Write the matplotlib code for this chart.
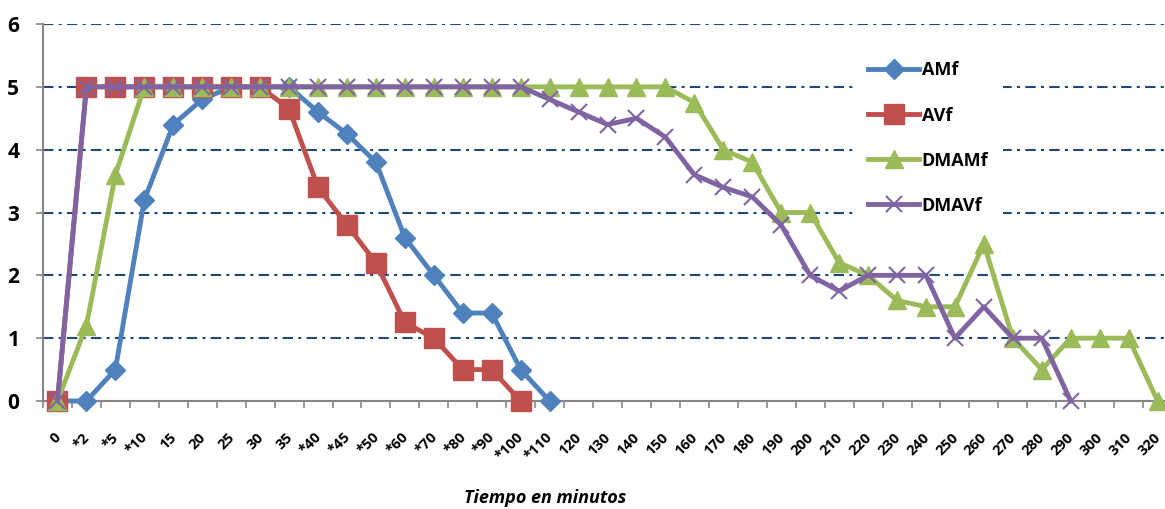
import matplotlib
matplotlib.use("Agg")
import matplotlib.pyplot as plt
import matplotlib.transforms as mtransforms
import numpy as np

plt.rcParams['font.family'] = ['Open Sans', 'DejaVu Sans']

# categories (minutes)
tiempos = ['0', '*2', '*5', '*10', '15', '20', '25', '30', '35', '*40', '*45', '*50',
           '*60', '*70', '*80', '*90', '*100', '*110', '120', '130', '140', '150',
           '160', '170', '180', '190', '200', '210', '220', '230', '240', '250',
           '260', '270', '280', '290', '300', '310', '320']

amf = [0, 0, 0.5, 3.2, 4.4, 4.8, 5, 5, 5, 4.6, 4.25, 3.8, 2.6, 2.0, 1.4, 1.4, 0.5, 0]
avf = [0, 5, 5, 5, 5, 5, 5, 5, 4.65, 3.4, 2.8, 2.2, 1.25, 1.0, 0.5, 0.5, 0]
dmamf = [0, 1.2, 3.6, 5, 5, 5, 5, 5, 5, 5, 5, 5, 5, 5, 5, 5, 5, 5, 5, 5, 5, 5,
         4.75, 4.0, 3.8, 3.0, 3.0, 2.2, 2.0, 1.6, 1.5, 1.5, 2.5, 1.0, 0.5, 1.0, 1.0, 1.0, 0]
dmavf = [0, 5, 5, 5, 5, 5, 5, 5, 5, 5, 5, 5, 5, 5, 5, 5, 5, 4.8, 4.6, 4.4, 4.5, 4.2,
         3.6, 3.4, 3.25, 2.8, 2.0, 1.75, 2.0, 2.0, 2.0, 1.0, 1.5, 1.0, 1.0, 0]

series = [
    ('AMf', amf, '#4F81BD', 'D', 10),
    ('AVf', avf, '#C0504D', 's', 14),
    ('DMAMf', dmamf, '#9BBB59', '^', 13),
    ('DMAVf', dmavf, '#8064A2', 'x', 12),
]

W, H = 1165, 509
fig = plt.figure(figsize=(W / 100, H / 100), dpi=100)
ax = fig.add_axes([43 / W, 1 - 401 / H, (39 * 28.95) / W, (401 - 24) / H])

grid_color = '#1F497D'
for yv in range(1, 7):
    ax.axhline(yv, color=grid_color, lw=1.5, ls=(0, (5, 2.5, 1.5, 2.5)), zorder=1)

for name, vals, col, mk, ms in series:
    x = np.arange(len(vals))
    if mk == 'x':
        ax.plot(x, vals, color=col, lw=3.5, marker=mk, ms=ms, mew=1.5,
                label=name, clip_on=False, zorder=3)
    else:
        ax.plot(x, vals, color=col, lw=3.5, marker=mk, ms=ms, mec=col,
                label=name, clip_on=False, zorder=3)

ax.set_xlim(-0.5, len(tiempos) - 0.5)
ax.set_ylim(0, 6)

ax.set_xticks(np.arange(len(tiempos)))
ax.set_xticklabels(tiempos, rotation=45, ha='right', va='top', rotation_mode='anchor',
                   fontsize=10.5, fontweight='bold')
ax.set_xticks(np.arange(len(tiempos) + 1) - 0.5, minor=True)
ax.tick_params(axis='x', which='major', length=0, pad=21)
ax.tick_params(axis='x', which='minor', length=5, color='#868686', width=1.2)
shift = mtransforms.ScaledTranslation(-4 / 100, 0, fig.dpi_scale_trans)
for lbl in ax.get_xticklabels():
    lbl.set_transform(lbl.get_transform() + shift)
ax.set_yticks(range(0, 7))
ax.tick_params(axis='y', length=5, color='#868686', width=1.2, pad=12,
               labelsize=15)
for lbl in ax.get_yticklabels():
    lbl.set_fontweight('bold')

for s in ['top', 'right']:
    ax.spines[s].set_visible(False)
for s in ['left', 'bottom']:
    ax.spines[s].set_color('#868686')
    ax.spines[s].set_linewidth(1.5)

leg = ax.legend(loc='upper left', bbox_to_anchor=(845 / W, 1 - 38 / H),
                bbox_transform=fig.transFigure, frameon=True, fancybox=False,
                facecolor='white', edgecolor='none', framealpha=1,
                prop={'weight': 'bold', 'size': 13}, labelspacing=1.5,
                handlelength=2.8, handletextpad=0.15, borderpad=0.8)
leg.set_zorder(5)

fig.text(545 / W, 1 - 498 / H, 'Tiempo en minutos', ha='center', va='center',
         fontsize=13, fontweight='bold', style='italic')

fig.savefig('out.png', dpi=100)
